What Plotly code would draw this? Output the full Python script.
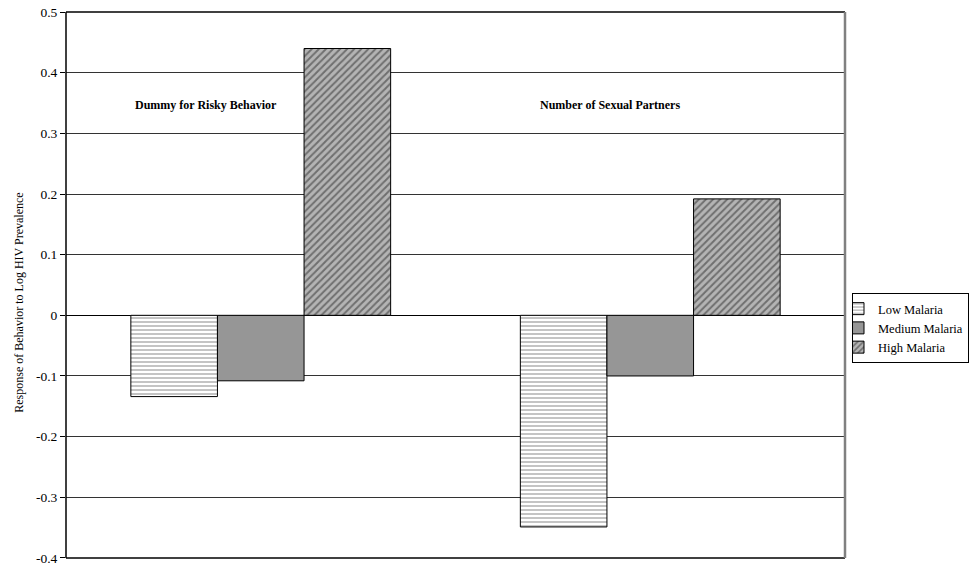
import plotly.graph_objects as go

categories = ["Dummy for Risky Behavior", "Number of Sexual Partners"]
series_names = ["Low Malaria", "Medium Malaria", "High Malaria"]
low_malaria = [-0.134, -0.349]
medium_malaria = [-0.108, -0.100]
high_malaria = [0.440, 0.192]
y_ticks = [0.5, 0.4, 0.3, 0.2, 0.1, 0.0, -0.1, -0.2, -0.3, -0.4]
y_tick_labels = ["0.5", "0.4", "0.3", "0.2", "0.1", "0", "-0.1", "-0.2", "-0.3", "-0.4"]
y_title = "Response of Behavior to Log HIV Prevalence"

FONT = "Liberation Serif"

styles = [
    dict(color="white", pattern=dict(shape="-", fgcolor="#555555", bgcolor="white", size=4, solidity=0.35)),
    dict(color="#969696", pattern=dict(shape="")),
    dict(color="#b4b4b4", pattern=dict(shape="/", fgcolor="#2a2a2a", bgcolor="#b4b4b4", size=5, solidity=0.4)),
]

fig = go.Figure()
for name, vals, st in zip(series_names, [low_malaria, medium_malaria, high_malaria], styles):
    fig.add_trace(go.Bar(
        x=categories, y=vals, name=name,
        marker=dict(color=st["color"], pattern=st["pattern"],
                    line=dict(color="black", width=1)),
    ))

# group captions, set a little left of each category centre
for cat, shift in zip(categories, [-55, -40]):
    fig.add_annotation(x=cat, y=0.347, xref="x", yref="y", text="<b>%s</b>" % cat,
                       showarrow=False, xshift=shift,
                       font=dict(family=FONT, size=12, color="black"))

# vertical axis caption
fig.add_annotation(xref="paper", yref="paper", x=-0.06, y=0.468, xanchor="center",
                   yanchor="middle", textangle=-90, text=y_title, showarrow=False,
                   font=dict(family=FONT, size=12, color="black"))

# frame: black on three sides, grey on the right
fig.add_shape(type="line", xref="paper", yref="paper", x0=0, x1=0, y0=0, y1=1,
              line=dict(color="black", width=1.5))
fig.add_shape(type="line", xref="paper", yref="paper", x0=0, x1=1, y0=1, y1=1,
              line=dict(color="black", width=1.5))
fig.add_shape(type="line", xref="paper", yref="paper", x0=0, x1=1, y0=0, y1=0,
              line=dict(color="black", width=1.5))
fig.add_shape(type="line", xref="paper", yref="paper", x0=1, x1=1, y0=0, y1=1,
              line=dict(color="#808080", width=2.5))

fig.update_layout(
    width=973, height=565,
    margin=dict(l=66, r=128, t=12, b=7, autoexpand=False),
    paper_bgcolor="white", plot_bgcolor="white",
    barmode="group", bargap=0.333, bargroupgap=0,
    font=dict(family=FONT, size=13, color="black"),
    showlegend=True,
    legend=dict(xref="container", x=852 / 973, xanchor="left",
                yref="container", y=(565 - 328) / 565, yanchor="middle",
                bordercolor="black", borderwidth=1, bgcolor="white",
                font=dict(family=FONT, size=12.5), tracegroupgap=0,
                itemwidth=30, indentation=-15, traceorder="normal"),
    xaxis=dict(showticklabels=False, showgrid=False, zeroline=False, ticks=""),
    yaxis=dict(range=[-0.4002, 0.5002], tickvals=y_ticks, ticktext=y_tick_labels,
               showgrid=True, gridcolor="#333333", gridwidth=1,
               zeroline=True, zerolinecolor="black", zerolinewidth=1,
               ticks="outside", ticklen=5, tickcolor="black",
               ticklabeloverflow="allow",
               tickfont=dict(family=FONT, size=13.5)),
)

fig.write_html("out.html")
